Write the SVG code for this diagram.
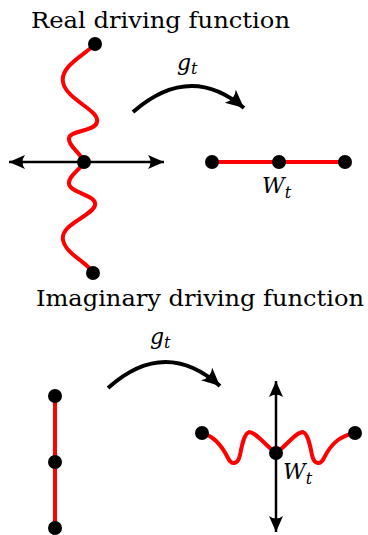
<svg xmlns="http://www.w3.org/2000/svg" width="368" height="535" viewBox="0 0 368 535">
<style>
.title{font-family:"DejaVu Serif",serif;font-size:22px;fill:#000}
.math{font-family:"DejaVu Serif",serif;font-style:italic;fill:#000}
.red{fill:none;stroke:#ff0000;stroke-width:4;stroke-linecap:round;stroke-linejoin:round}
.axis{fill:none;stroke:#000;stroke-width:2.5}
.arc{fill:none;stroke:#000;stroke-width:4}
.dot{fill:#000}
</style>
<defs>
<marker id="ah" markerUnits="userSpaceOnUse" viewBox="-18 -9 20 18" refX="0" refY="0" markerWidth="20" markerHeight="18" orient="auto-start-reverse">
<path d="M0,0 L-16,-7 Q-11,0 -16,7 Z" fill="#000"/>
</marker>
<marker id="ahb" markerUnits="userSpaceOnUse" viewBox="-20 -11 22 22" refX="0" refY="0" markerWidth="22" markerHeight="22" orient="auto">
<path d="M0,0 L-18,-8.5 Q-12,0 -18,8.5 Z" fill="#000"/>
</marker>
</defs>
<text class="title" x="31" y="28" textLength="259" lengthAdjust="spacingAndGlyphs">Real driving function</text>
<text class="title" x="36" y="306" textLength="328" lengthAdjust="spacingAndGlyphs">Imaginary driving function</text>
<g id="connectors">
<path class="axis" d="M9,162 H164" marker-start="url(#ah)" marker-end="url(#ah)"/>
<path class="arc" d="M133,112 Q190,62 244,108" marker-end="url(#ahb)"/>
<path class="axis" d="M276,381 V532" marker-start="url(#ah)" marker-end="url(#ah)"/>
<path class="arc" d="M108,388 Q165,337 220,386" marker-end="url(#ahb)"/>
</g>
<g id="real-source">
<path class="red" d="M95,44 C85,55 60,66 63,82 C66,100 100,110 97,122 C95,132 70,130 69,138 C68,146 80,152 84,162 C80,170 68,176 69,184 C70,193 97,195 95,205 C93,216 60,224 63,240 C66,255 88,262 93,273"/>
<circle class="dot" cx="95" cy="44" r="7"/>
<circle class="dot" cx="84" cy="162" r="7"/>
<circle class="dot" cx="93" cy="273" r="7"/>
</g>
<g id="real-image">
<path class="red" d="M212,162 H345"/>
<circle class="dot" cx="212" cy="162" r="7"/>
<circle class="dot" cx="279" cy="162" r="7"/>
<circle class="dot" cx="345" cy="162" r="7"/>
<text class="math" x="262" y="193" font-size="22">W<tspan font-size="16" dy="5">t</tspan></text>
</g>
<g id="label-top"><text class="math" x="177" y="70" font-size="22">g<tspan font-size="16" dy="4">t</tspan></text></g>
<g id="label-bottom"><text class="math" x="150" y="344" font-size="22">g<tspan font-size="16" dy="4">t</tspan></text></g>
<g id="imag-source">
<path class="red" d="M55,396 V528"/>
<circle class="dot" cx="55" cy="396" r="7"/>
<circle class="dot" cx="55" cy="462" r="7"/>
<circle class="dot" cx="55" cy="528" r="7"/>
</g>
<g id="imag-image">
<path class="red" d="M202,433 C214,436 222,446 228,458 C232,466 238,464 240,455 C242,445 244,434 249,432 C256,432 266,446 276,453 C286,446 296,432 303,432 C308,434 310,445 312,455 C314,464 320,466 324,458 C330,446 338,436 355,433"/>
<circle class="dot" cx="202" cy="433" r="7"/>
<circle class="dot" cx="276" cy="453" r="7"/>
<circle class="dot" cx="355" cy="433" r="7"/>
<text class="math" x="283" y="479" font-size="22">W<tspan font-size="16" dy="5">t</tspan></text>
</g>
</svg>
